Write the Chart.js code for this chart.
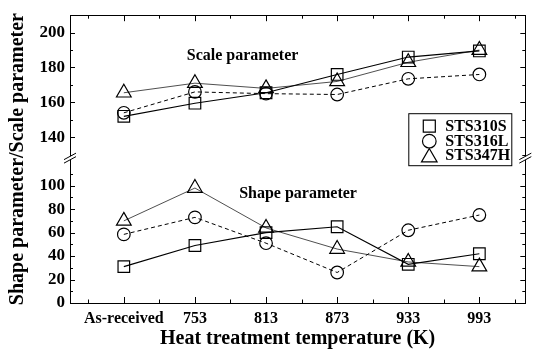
<!DOCTYPE html>
<html>
<head>
<meta charset="utf-8">
<script src="https://cdn.jsdelivr.net/npm/chart.js@4.4.0/dist/chart.umd.min.js"></script>
<style>
html,body{margin:0;padding:0;background:#fff;}
#wrap{width:535px;height:352px;}
</style>
</head>
<body>
<div id="wrap"><canvas id="chart" width="535" height="352"></canvas></div>
<script>
// values
var categories = ["As-received", "753", "813", "873", "933", "993"];
var seriesNames = ["STS310S", "STS316L", "STS347H"];
var scale310S = [152, 159.5, 165.5, 176, 186, 189.5];
var scale316L = [154, 166, 165, 164.5, 173.5, 176];
var scale347H = [165.5, 171, 168, 172, 183, 190];
var shape310S = [31, 49, 60, 65, 33, 42];
var shape316L = [58.5, 73, 51, 26, 62, 75];
var shape347H = [70, 98, 64, 46, 35, 31];
var scaleTicks = [140, 160, 180, 200];
var shapeTicks = [0, 20, 40, 60, 80, 100];

var FONT = "'Liberation Serif', 'Times New Roman', serif";

var looks = [
  {pointStyle: "rect", radius: 8.2, legendRadius: 8.5, dash: [], width: 1.2, color: "#000"},
  {pointStyle: "circle", radius: 6.3, legendRadius: 6.8, dash: [4, 3], width: 1, color: "#000"},
  {pointStyle: "triangle", radius: 8.5, legendRadius: 9, dash: [], width: 0.8, color: "#222"}
];

function toPoints(arr) {
  return arr.map(function (v, i) { return {x: i, y: v}; });
}

function makeSet(name, values, look, axis) {
  return {
    label: name,
    data: toPoints(values),
    yAxisID: axis,
    borderColor: look.color,
    borderWidth: look.width,
    borderDash: look.dash,
    pointStyle: look.pointStyle,
    pointRadius: look.radius,
    pointHoverRadius: look.radius,
    pointBorderColor: "#000",
    pointBorderWidth: 1.2,
    pointBackgroundColor: "rgba(0,0,0,0)",
    fill: false,
    tension: 0
  };
}

var scaleSeries = [scale310S, scale316L, scale347H];
var shapeSeries = [shape310S, shape316L, shape347H];
var datasets = [];
for (var i = 0; i < 3; i++) {
  datasets.push(makeSet(seriesNames[i], scaleSeries[i], looks[i], "yHigh"));
  datasets.push(makeSet(seriesNames[i], shapeSeries[i], looks[i], "yLow"));
}

var framePlugin = {
  id: "frame",
  beforeDatasetsDraw: function (chart) {
    var ctx = chart.ctx, a = chart.chartArea;
    var xs = chart.scales.x, yh = chart.scales.yHigh, yl = chart.scales.yLow;
    ctx.save();
    ctx.strokeStyle = "#000";
    ctx.lineWidth = 1;
    ctx.strokeRect(Math.round(a.left) + 0.5, Math.round(a.top) + 0.5, Math.round(a.width), Math.round(a.height));
    ctx.beginPath();
    var v, p, len;
    for (v = -0.5; v <= 5.5; v += 0.5) {
      p = Math.round(xs.getPixelForValue(v)) + 0.5;
      len = (v % 1 === 0) ? 6 : 3.5;
      ctx.moveTo(p, a.bottom); ctx.lineTo(p, a.bottom - len);
      ctx.moveTo(p, a.top); ctx.lineTo(p, a.top + len);
    }
    for (v = 130; v <= 200; v += 10) {
      p = Math.round(yh.getPixelForValue(v)) + 0.5;
      len = (v % 20 === 0) ? 5 : 3;
      ctx.moveTo(a.left, p); ctx.lineTo(a.left + len, p);
      ctx.moveTo(a.right, p); ctx.lineTo(a.right - len, p);
    }
    for (v = 10; v <= 110; v += 10) {
      p = Math.round(yl.getPixelForValue(v)) + 0.5;
      len = (v % 20 === 0) ? 5 : 3;
      ctx.moveTo(a.left, p); ctx.lineTo(a.left + len, p);
      ctx.moveTo(a.right, p); ctx.lineTo(a.right - len, p);
    }
    ctx.stroke();

    // y title
    ctx.fillStyle = "#000";
    ctx.font = "bold 20px " + FONT;
    ctx.textAlign = "center";
    ctx.textBaseline = "middle";
    ctx.save();
    ctx.translate(18, (a.top + a.bottom) / 2);
    ctx.rotate(-Math.PI / 2);
    ctx.fillText("Shape parameter/Scale parameter", 0, 0);
    ctx.restore();

    // panel notes
    ctx.font = "bold 16px " + FONT;
    ctx.fillText("Scale parameter", xs.getPixelForValue(1.67), yh.getPixelForValue(186.7));
    ctx.fillText("Shape parameter", xs.getPixelForValue(2.45), yl.getPixelForValue(93.3));
    ctx.restore();
  },
  afterDraw: function (chart) {
    var ctx = chart.ctx, a = chart.chartArea;
    var yb = chart.scales.yHigh.bottom;
    ctx.save();
    // axis breaks
    [a.left, a.right].forEach(function (x) {
      ctx.fillStyle = "#fff";
      ctx.beginPath();
      ctx.moveTo(x - 6, yb + 1.5); ctx.lineTo(x + 6, yb - 5);
      ctx.lineTo(x + 6, yb - 1.5); ctx.lineTo(x - 6, yb + 5);
      ctx.closePath(); ctx.fill();
      ctx.strokeStyle = "#000"; ctx.lineWidth = 1;
      ctx.beginPath();
      ctx.moveTo(x - 6, yb + 1.5); ctx.lineTo(x + 6, yb - 5);
      ctx.moveTo(x - 6, yb + 5); ctx.lineTo(x + 6, yb - 1.5);
      ctx.stroke();
    });

    // legend
    var left = a.right - 117, top = a.top + 98, w = 103, h = 52;
    ctx.fillStyle = "#fff";
    ctx.fillRect(left, top, w, h);
    ctx.strokeStyle = "#000";
    ctx.lineWidth = 1;
    ctx.strokeRect(left + 0.5, top + 0.5, w, h);
    var rows = [13, 28, 42];
    ctx.font = "bold 16px " + FONT;
    ctx.textAlign = "left";
    ctx.textBaseline = "middle";
    for (var i = 0; i < 3; i++) {
      var y = top + rows[i];
      var r = looks[i].legendRadius;
      var sy = looks[i].pointStyle === "triangle" ? y + r / 4 : y;
      ctx.fillStyle = "rgba(0,0,0,0)";
      ctx.strokeStyle = "#000";
      ctx.lineWidth = 1.2;
      Chart.helpers.drawPoint(ctx, {pointStyle: looks[i].pointStyle, radius: r, rotation: 0, borderWidth: 1.2}, left + 21, sy);
      ctx.fillStyle = "#000";
      ctx.fillText(seriesNames[i], left + 37, y + 1);
    }
    ctx.restore();
  }
};

var tickFont = {family: FONT, size: 17, weight: "bold"};

new Chart(document.getElementById("chart"), {
  type: "line",
  data: {datasets: datasets},
  plugins: [framePlugin],
  options: {
    responsive: false,
    devicePixelRatio: 1,
    animation: false,
    layout: {padding: {left: 0, right: 6, top: 5, bottom: 0}},
    plugins: {legend: {display: false}, tooltip: {enabled: false}},
    scales: {
      x: {
        type: "linear",
        min: -0.757,
        max: 5.646,
        afterBuildTicks: function (s) { s.ticks = categories.map(function (c, i) { return {value: i}; }); },
        ticks: {
          callback: function (v) { return categories[v]; },
          font: {family: FONT, size: 16, weight: "bold"},
          color: "#000",
          padding: 6,
          maxRotation: 0,
          autoSkip: false
        },
        grid: {display: false, drawTicks: false},
        border: {display: false},
        title: {
          display: true,
          text: "Heat treatment temperature (K)",
          font: {family: FONT, size: 20, weight: "bold"},
          color: "#000",
          padding: {top: 0, bottom: 1}
        },
        afterFit: function (s) { s.height = 49; }
      },
      yHigh: {
        type: "linear",
        position: "left",
        stack: "y",
        stackWeight: 148,
        weight: 1,
        min: 128,
        max: 210,
        afterBuildTicks: function (s) { s.ticks = scaleTicks.map(function (v) { return {value: v}; }); },
        ticks: {font: tickFont, color: "#000", padding: 5, autoSkip: false},
        grid: {display: false, drawTicks: false},
        border: {display: false},
        afterFit: function (s) { s.width = 70; }
      },
      yLow: {
        type: "linear",
        position: "left",
        stack: "y",
        stackWeight: 150,
        weight: 0,
        min: 0,
        max: 123.5,
        afterBuildTicks: function (s) { s.ticks = shapeTicks.map(function (v) { return {value: v}; }); },
        ticks: {font: tickFont, color: "#000", padding: 5, autoSkip: false},
        grid: {display: false, drawTicks: false},
        border: {display: false},
        afterFit: function (s) { s.width = 70; }
      }
    }
  }
});
</script>
</body>
</html>
